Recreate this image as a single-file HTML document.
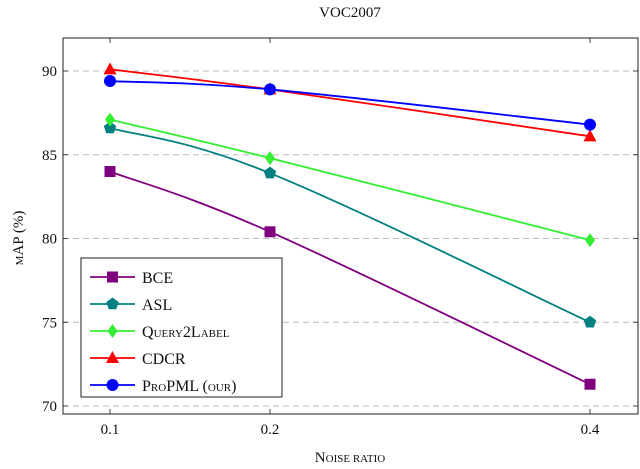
<!DOCTYPE html>
<html><head><meta charset="utf-8"><style>
body{margin:0;background:#fff}
svg text{font-family:"Liberation Serif",serif;fill:#111}
</style></head><body>
<svg id="c" width="640" height="464"></svg>
<script>
const categories=[0.1,0.2,0.4];
const seriesNames=["BCE","ASL","Query2Label","CDCR","ProPML (our)"];
const bceValues=[84.0,80.4,71.3];
const aslValues=[86.6,83.9,75.0];
const q2lValues=[87.1,84.8,79.9];
const cdcrValues=[90.1,88.9,86.1];
const propmlValues=[89.4,88.9,86.8];
const yTicks=[70,75,80,85,90];
const xTicks=[0.1,0.2,0.4];

const NS="http://www.w3.org/2000/svg";
const svg=document.getElementById('c');
const L=63,R=638,T=38,B=414;
const xs=v=>110+(v-0.1)*1600;
const ys=v=>406-(v-70)*16.75;
function mk(t,a,p){const e=document.createElementNS(NS,t);for(const k in a)e.setAttribute(k,a[k]);(p||svg).appendChild(e);return e;}

// grid
yTicks.forEach(v=>{
 const g=mk('line',{x1:L,x2:R,y1:ys(v),y2:ys(v),stroke:'#bbb','stroke-dasharray':'6,4'});
 
 
 mk('line',{x1:L,x2:L+5,y1:ys(v),y2:ys(v),stroke:'#444'});
 mk('line',{x1:R-5,x2:R,y1:ys(v),y2:ys(v),stroke:'#444'});
 const t=mk('text',{x:L-6,y:ys(v)+5,'text-anchor':'end','font-size':'15'});t.textContent=v;
 
 
});
xTicks.forEach(v=>{
 mk('line',{x1:xs(v),x2:xs(v),y1:B,y2:B-5,stroke:'#444'});
 mk('line',{x1:xs(v),x2:xs(v),y1:T,y2:T+5,stroke:'#444'});
 const t=mk('text',{x:xs(v),y:B+20,'text-anchor':'middle','font-size':'15'});t.textContent=v;
 
 
});
const fr=mk('rect',{x:L,y:T,width:R-L,height:B-T,fill:'none',stroke:'#222'});


const colors=['#800080','#008080','#33ee33','#ff0000','#0000ff'];
const data=[bceValues,aslValues,q2lValues,cdcrValues,propmlValues];
const shapes=['square','pentagon','diamond','triangle','circle'];
function marker(s,x,y,c,p){
 if(s==='square')return mk('rect',{x:x-5.5,y:y-5.5,width:11,height:11,fill:c},p);
 if(s==='circle')return mk('circle',{cx:x,cy:y,r:6,fill:c},p);
 if(s==='diamond')return mk('polygon',{points:`${x},${y-7} ${x+5},${y} ${x},${y+7} ${x-5},${y}`,fill:c},p);
 if(s==='triangle')return mk('polygon',{points:`${x},${y-7} ${x+6.5},${y+5} ${x-6.5},${y+5}`,fill:c},p);
 let pts=[];for(let i=0;i<5;i++){const a=-Math.PI/2+i*2*Math.PI/5;pts.push((x+6.5*Math.cos(a))+','+(y+6.5*Math.sin(a)));}
 return mk('polygon',{points:pts.join(' '),fill:c},p);
}
function smooth(P){
 const k=0.55/3;let d=`M${P[0][0]},${P[0][1]}`;
 for(let i=0;i<P.length-1;i++){
  const p0=P[Math.max(0,i-1)],p1=P[i],p2=P[i+1],p3=P[Math.min(P.length-1,i+2)];
  const c1=[p1[0]+(p2[0]-p0[0])*k,p1[1]+(p2[1]-p0[1])*k];
  const c2=[p2[0]-(p3[0]-p1[0])*k,p2[1]-(p3[1]-p1[1])*k];
  d+=` C${c1[0]},${c1[1]} ${c2[0]},${c2[1]} ${p2[0]},${p2[1]}`;
 }
 return d;
}
data.forEach((vals,si)=>{
 const g=mk('g',{});
 
 
 const P=vals.map((v,i)=>[xs(categories[i]),ys(v)]);
 mk('path',{d:smooth(P),fill:'none',stroke:colors[si],'stroke-width':'1.8'},g);
 P.forEach(p=>{const m=marker(shapes[si],p[0],p[1],colors[si],g);
  
  });
});

// legend
const lg=mk('g',{});


mk('rect',{x:81,y:258,width:201,height:139,fill:'#fff',stroke:'#222'},lg);
const labels=['BCE','ASL','Q<tspan font-size="11">UERY</tspan>2L<tspan font-size="11">ABEL</tspan>','CDCR','P<tspan font-size="11">RO</tspan>PML (<tspan font-size="11">OUR</tspan>)'];
labels.forEach((lab,i)=>{
 const y=277+i*27;
 const e=mk('g',{},lg);
 
 
 mk('line',{x1:90,x2:135,y1:y,y2:y,stroke:colors[i],'stroke-width':'1.8'},e);
 marker(shapes[i],112.5,y,colors[i],e);
 const t=mk('text',{x:142,y:y+6,'font-size':'16'},e);t.innerHTML=lab;
});

const tt=mk('text',{x:350,y:17,'text-anchor':'middle','font-size':'15'});tt.textContent='VOC2007';

const xl=mk('text',{x:350,y:462,'text-anchor':'middle','font-size':'15'});xl.innerHTML='N<tspan font-size="11">OISE RATIO</tspan>';

const yl=mk('text',{x:0,y:0,'text-anchor':'middle','font-size':'15',transform:'translate(23,238) rotate(-90)'});yl.innerHTML='<tspan font-size="11">M</tspan>AP (%)';

</script>
</body></html>
